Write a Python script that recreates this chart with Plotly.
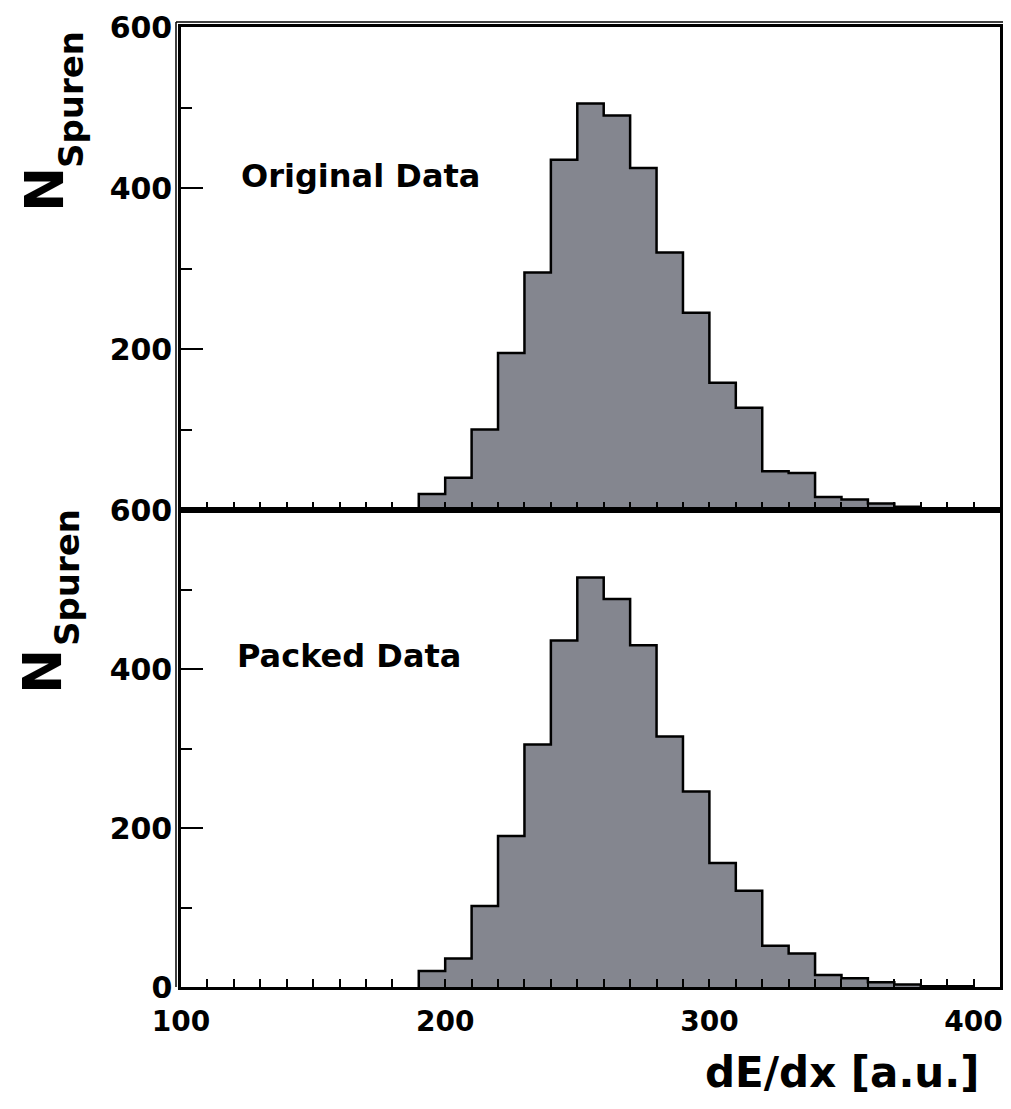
import plotly.graph_objects as go

# ---------------- data ----------------
bin_edges = [190, 200, 210, 220, 230, 240, 250, 260, 270, 280, 290,
             300, 310, 320, 330, 340, 350, 360, 370, 380, 390, 400]
original_counts = [20, 40, 100, 195, 295, 435, 505, 490, 425, 320, 245,
                   158, 127, 48, 46, 16, 13, 8, 4, 2, 1]
packed_counts = [20, 36, 102, 190, 305, 436, 515, 488, 430, 315, 246,
                 156, 121, 52, 42, 15, 11, 6, 3, 1, 1]
x_tick_vals = [100, 200, 300, 400]
x_tick_text = ["100", "200", "300", "400"]
y_tick_top = [200, 400, 600]
y_tick_bottom = [0, 200, 400, 600]
panel_labels = ["Original Data", "Packed Data"]

# ---------------- geometry (page pixels; the page body has an 8px margin) ----------------
OFF = 8
W, H = 1011 - 2 * OFF, 1109 - 2 * OFF
LEFT_PX, RIGHT_PX, TOP_PX, BOT_PX = 181, 1000, 27, 987
ML = LEFT_PX - OFF
MR = W - (RIGHT_PX - OFF)
MT = TOP_PX - OFF
MB = H - (BOT_PX - OFF)
PW = RIGHT_PX - LEFT_PX
PH = BOT_PX - TOP_PX
SPLIT_PX = 510
split = (BOT_PX - SPLIT_PX) / PH


def px(xp):
    return (xp - LEFT_PX) / PW


def py(yp):
    return (BOT_PX - yp) / PH


def step_xy(edges, counts):
    xs = [edges[0]] + list(edges[:-1]) + [edges[-1]]
    ys = [0] + list(counts) + [0]
    return xs, ys


FILL = "#84868f"
FONT = "DejaVu Sans"
WEIGHT = "bold"

fig = go.Figure()
for counts, ax in [(original_counts, "y"), (packed_counts, "y2")]:
    xs, ys = step_xy(bin_edges, counts)
    fig.add_trace(go.Scatter(
        x=xs, y=ys, mode="lines", line_shape="hv",
        line=dict(color="black", width=2.5),
        fill="tozeroy", fillcolor=FILL,
        xaxis="x" if ax == "y" else "x2", yaxis=ax,
        showlegend=False, hoverinfo="skip"))

common_x = dict(range=[100, 410], showline=True, linecolor="black", linewidth=2.5,
                mirror=True, ticks="inside", ticklen=8, tickwidth=1.5, tickcolor="black",
                tickvals=x_tick_vals, showgrid=False, zeroline=False, automargin=False,
                ticklabeloverflow="allow",
                minor=dict(ticks="inside", ticklen=8, tickwidth=1.5, tickcolor="black", dtick=10,
                           showgrid=False))
common_y = dict(range=[0, 600], showline=True, linecolor="black", linewidth=2.5,
                mirror=True, ticks="inside", ticklen=22, tickwidth=2, tickcolor="black",
                showgrid=False, zeroline=False, automargin=False,
                ticklabeloverflow="allow",
                tickfont=dict(family=FONT, size=30, color="black", weight=WEIGHT),
                minor=dict(ticks="inside", ticklen=11, tickwidth=2, tickcolor="black",
                           dtick=100, showgrid=False))

fig.update_layout(
    template="none",
    width=W, height=H,
    margin=dict(l=ML, r=MR, t=MT, b=MB, autoexpand=False),
    paper_bgcolor="white", plot_bgcolor="white",
    xaxis=dict(anchor="y", showticklabels=False, **common_x),
    yaxis=dict(domain=[split, 1], anchor="x", tickvals=y_tick_top, **common_y),
    xaxis2=dict(anchor="y2", showticklabels=True, ticktext=x_tick_text,
                ticklabelstandoff=8,
                tickfont=dict(family=FONT, size=28, color="black", weight=WEIGHT),
                **common_x),
    yaxis2=dict(domain=[0, split], anchor="x2", tickvals=y_tick_bottom, **common_y),
)


def ann(text, xp, yp, size, angle=0):
    return dict(text=text, x=px(xp), y=py(yp), xref="paper", yref="paper",
                textangle=angle, showarrow=False, xanchor="center", yanchor="middle",
                font=dict(family=FONT, size=size, color="black", weight=WEIGHT))


annotations = [
    ann(panel_labels[0], 360, 176, 32),
    ann(panel_labels[1], 349, 656, 32),
    ann("N", 44, 190, 54, -90),
    ann("Spuren", 71, 100, 34, -90),
    ann("N", 42, 672, 54, -90),
    ann("Spuren", 67, 578, 34, -90),
    ann("dE/dx [a.u.]", 842, 1072, 42),
]
fig.update_layout(annotations=annotations)

# doubled frame lines (as in the scanned original)
shapes = [
    dict(type="line", xref="paper", yref="paper", x0=px(176), x1=px(176), y0=0, y1=py(22),
         line=dict(color="black", width=1.5)),
    dict(type="line", xref="paper", yref="paper", x0=px(176), x1=px(1004), y0=py(22), y1=py(22),
         line=dict(color="black", width=1.5)),
    dict(type="line", xref="paper", yref="paper", x0=px(1004), x1=px(1004), y0=0, y1=py(22),
         line=dict(color="black", width=1.5)),
]
fig.update_layout(shapes=shapes)

fig.write_html("out.html")
